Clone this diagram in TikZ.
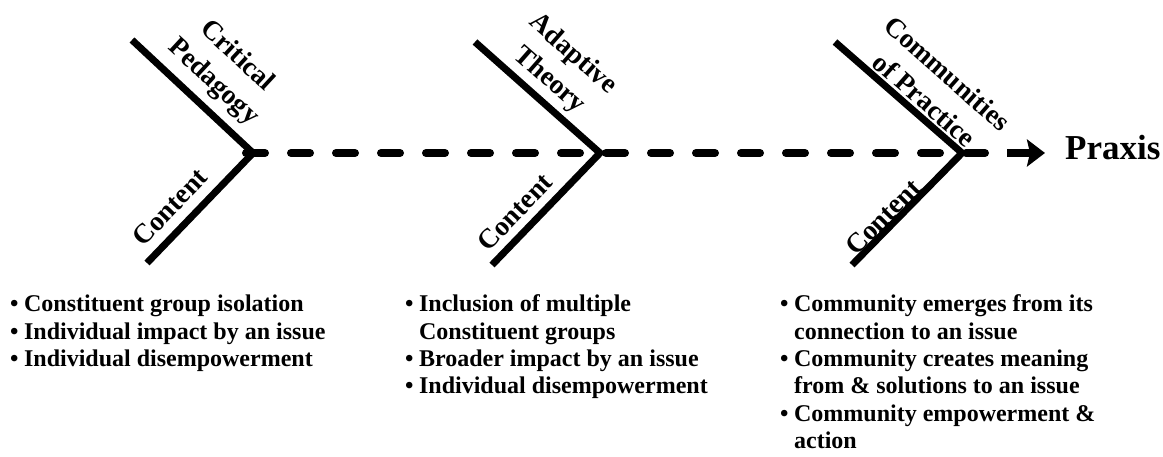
\documentclass[tikz,border=0pt]{standalone}
\usepackage{fontspec}
\setmainfont{Liberation Serif}
\usetikzlibrary{arrows.meta}
\newcommand{\itemdot}{\textbullet\hspace{5.5pt}}
\newcommand{\itemgap}{\phantom{\textbullet}\hspace{5.5pt}}
\begin{document}
\begin{tikzpicture}[x=1pt,y=1pt,
  bone/.style={line width=7pt, line join=miter, miter limit=10},
  spine/.style={line width=8pt, dash pattern=on 19pt off 26pt, line cap=round},
  tipline/.style={line width=8pt, -{Stealth[length=18pt,width=27pt,inset=3pt]}},
  bonelabel/.style={font=\fontsize{27.5}{35}\selectfont\bfseries, align=center, inner sep=0pt},
  bullettext/.style={font=\fontsize{24}{27.3}\selectfont\bfseries, align=left, inner sep=0pt, anchor=base west},
  goal/.style={font=\fontsize{35}{40}\selectfont\bfseries, inner sep=0pt, anchor=base west},
]
\useasboundingbox (0,0) rectangle (1163,457);
% bone coordinates
\coordinate (s1) at (132,417);
\coordinate (v1) at (253,304);
\coordinate (e1) at (147,194);
\coordinate (s2) at (475,415);
\coordinate (v2) at (600,304);
\coordinate (e2) at (492,192);
\coordinate (s3) at (835,415);
\coordinate (v3) at (962,304);
\coordinate (e3) at (852,192);
\coordinate (sp) at (246,304);
\coordinate (sq) at (985,304);
\coordinate (as) at (1007,304);
% goal
\node[goal] (praxis) at (1065,297) {Praxis};
% spine
\draw[spine] (sp) -- (v1) -- (v2) -- (v3) -- (sq);
\draw[tipline] (as) -- (1045,304);
% bones
\draw[bone] (s1) -- (v1) -- (e1);
\draw[bone] (s2) -- (v2) -- (e2);
\draw[bone] (s3) -- (v3) -- (e3);
% bone labels
\node[bonelabel, rotate=-42.8] (l1) at (225,387.5) {Critical\\Pedagogy};
\node[bonelabel, rotate=46.3] (c1) at (170,250) {Content};
\node[bonelabel, rotate=-41.3] (l2) at (561,389.5) {Adaptive\\Theory};
\node[bonelabel, rotate=46.3] (c2) at (515,245) {Content};
\node[bonelabel, rotate=-41.4] (l3) at (936,370.5) {Communities\\of Practice};
\node[bonelabel, rotate=45.3] (c3) at (883,240) {Content};
% bullet lists (anchored at the baseline of their last line)
\node[bullettext] (t1) at (10,90.4) {\itemdot Constituent group isolation\\\itemdot Individual impact by an issue\\\itemdot Individual disempowerment};
\node[bullettext] (t2) at (405,63.1) {\itemdot Inclusion of multiple\\\itemgap Constituent groups\\\itemdot Broader impact by an issue\\\itemdot Individual disempowerment};
\node[bullettext] (t3) at (780,8.5) {\itemdot Community emerges from its\\\itemgap connection to an issue\\\itemdot Community creates meaning\\\itemgap from \& solutions to an issue\\\itemdot Community empowerment \&\\\itemgap action};
\end{tikzpicture}
\end{document}
